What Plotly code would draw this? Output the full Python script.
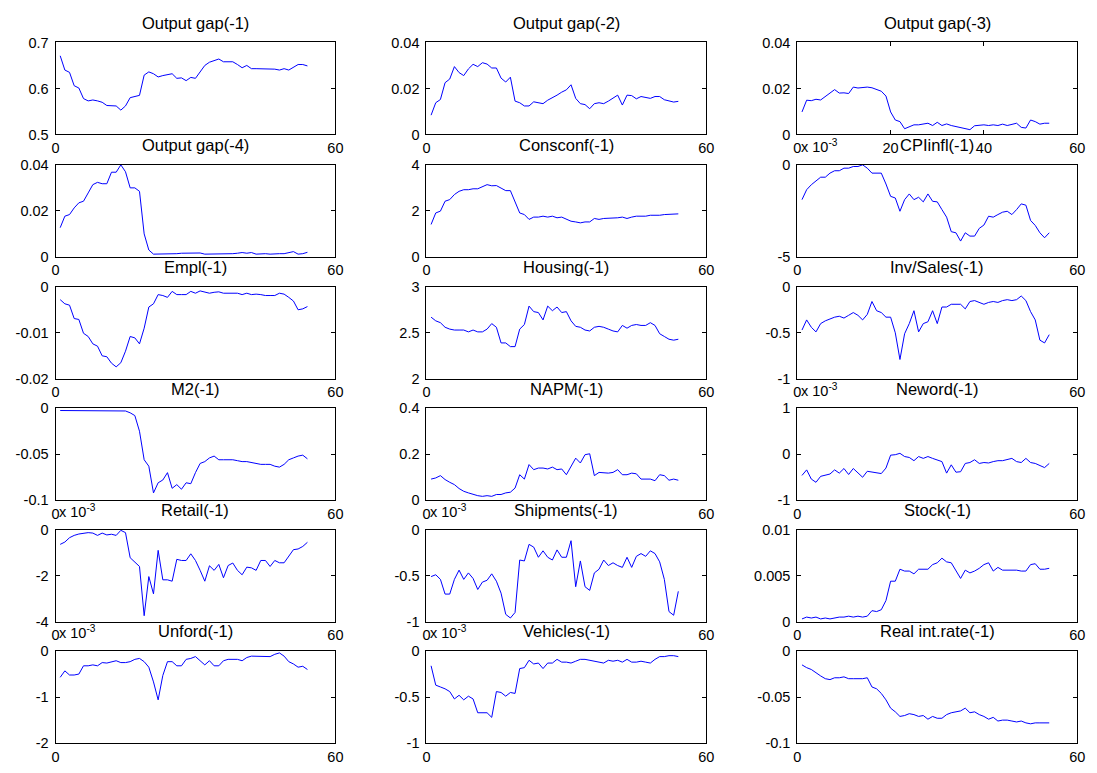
import plotly.graph_objects as go

titles = ["Output gap(-1)", "Output gap(-2)", "Output gap(-3)",
          "Output gap(-4)", "Consconf(-1)", "CPIinfl(-1)",
          "Empl(-1)", "Housing(-1)", "Inv/Sales(-1)",
          "M2(-1)", "NAPM(-1)", "Neword(-1)",
          "Retail(-1)", "Shipments(-1)", "Stock(-1)",
          "Unford(-1)", "Vehicles(-1)", "Real int.rate(-1)"]

output_gap_1 = [0.671, 0.640, 0.635, 0.606, 0.601, 0.578, 0.573, 0.575, 0.573, 0.570,
                0.563, 0.563, 0.562, 0.553, 0.562, 0.580, 0.583, 0.585, 0.629, 0.636,
                0.632, 0.625, 0.628, 0.630, 0.632, 0.622, 0.623, 0.617, 0.624, 0.622,
                0.637, 0.650, 0.657, 0.661, 0.664, 0.658, 0.658, 0.658, 0.652, 0.645,
                0.650, 0.643, 0.643, 0.643, 0.643, 0.643, 0.642, 0.640, 0.643, 0.640,
                0.646, 0.652, 0.652, 0.649]
output_gap_2 = [0.0084, 0.0138, 0.0152, 0.0225, 0.0241, 0.0295, 0.0269, 0.0256, 0.0285, 0.0305,
                0.0295, 0.0312, 0.0306, 0.0289, 0.0289, 0.0245, 0.0228, 0.0249, 0.0145, 0.0138,
                0.0124, 0.0124, 0.0142, 0.0138, 0.0134, 0.0149, 0.0159, 0.0171, 0.0184, 0.0194,
                0.0216, 0.0157, 0.0134, 0.0130, 0.0112, 0.0134, 0.0138, 0.0134, 0.0145, 0.0159,
                0.0171, 0.0128, 0.0171, 0.0169, 0.0155, 0.0165, 0.0161, 0.0157, 0.0165, 0.0165,
                0.0151, 0.0145, 0.0141, 0.0144]
output_gap_3 = [0.0098, 0.0149, 0.0147, 0.0153, 0.0150, 0.0164, 0.0181, 0.0195, 0.0180, 0.0181,
                0.0178, 0.0206, 0.0202, 0.0205, 0.0206, 0.0203, 0.0195, 0.0188, 0.0167, 0.0098,
                0.0063, 0.0056, 0.0025, 0.0035, 0.0042, 0.0042, 0.0045, 0.0049, 0.0039, 0.0053,
                0.0039, 0.0046, 0.0039, 0.0035, 0.0031, 0.0025, 0.0021, 0.0038, 0.0039, 0.0042,
                0.0039, 0.0042, 0.0039, 0.0045, 0.0039, 0.0045, 0.0049, 0.0031, 0.0028, 0.0063,
                0.0056, 0.0045, 0.0049, 0.0049]
output_gap_4 = [0.0127, 0.0177, 0.0184, 0.0213, 0.0235, 0.0242, 0.0278, 0.0314, 0.0324, 0.0318,
                0.0318, 0.0368, 0.0368, 0.0400, 0.0370, 0.0300, 0.0300, 0.0285, 0.0100, 0.0030,
                0.0012, 0.0012, 0.0012, 0.0012, 0.0014, 0.0014, 0.0016, 0.0016, 0.0019, 0.0017,
                0.0017, 0.0012, 0.0012, 0.0014, 0.0014, 0.0014, 0.0014, 0.0014, 0.0016, 0.0019,
                0.0016, 0.0019, 0.0012, 0.0014, 0.0014, 0.0012, 0.0014, 0.0014, 0.0014, 0.0019,
                0.0023, 0.0012, 0.0014, 0.0020]
consconf = [1.41, 1.91, 1.99, 2.42, 2.49, 2.71, 2.85, 2.92, 2.92, 2.96,
            2.96, 3.06, 3.14, 3.09, 3.10, 2.99, 2.88, 2.88, 2.42, 1.91,
            1.84, 1.63, 1.73, 1.73, 1.77, 1.73, 1.77, 1.70, 1.73, 1.63,
            1.55, 1.52, 1.48, 1.52, 1.52, 1.67, 1.63, 1.67, 1.67, 1.70,
            1.70, 1.73, 1.67, 1.73, 1.77, 1.77, 1.77, 1.81, 1.80, 1.81,
            1.84, 1.84, 1.84, 1.87]
cpiinfl = [-1.89, -1.35, -1.08, -0.90, -0.67, -0.67, -0.45, -0.32, -0.32, -0.18,
           -0.18, -0.09, -0.09, 0.0, -0.18, -0.45, -0.45, -0.45, -1.04, -1.71,
           -1.80, -2.52, -1.89, -1.58, -1.89, -1.76, -2.01, -1.58, -1.98, -2.01,
           -2.43, -2.84, -3.63, -3.69, -4.14, -3.69, -3.87, -3.87, -3.45, -3.27,
           -2.79, -2.84, -2.70, -2.57, -2.52, -2.70, -2.43, -2.12, -2.19, -3.02,
           -3.29, -3.69, -3.96, -3.69]
empl = [-0.0028, -0.0037, -0.0040, -0.0069, -0.0071, -0.0101, -0.0108, -0.0124, -0.0129, -0.0150,
        -0.0152, -0.0166, -0.0174, -0.0165, -0.0140, -0.0108, -0.0111, -0.0124, -0.0090, -0.0044,
        -0.0037, -0.0017, -0.0019, -0.0023, -0.0010, -0.0017, -0.0017, -0.0017, -0.0010, -0.0014,
        -0.0009, -0.0012, -0.0014, -0.0012, -0.0011, -0.0014, -0.0014, -0.0014, -0.0014, -0.0017,
        -0.0014, -0.0017, -0.0016, -0.0017, -0.0019, -0.0019, -0.0019, -0.0014, -0.0016, -0.0023,
        -0.0031, -0.0050, -0.0048, -0.0043]
housing = [2.67, 2.63, 2.61, 2.56, 2.54, 2.53, 2.53, 2.53, 2.51, 2.53,
           2.51, 2.51, 2.54, 2.60, 2.56, 2.39, 2.39, 2.35, 2.35, 2.54,
           2.59, 2.79, 2.73, 2.72, 2.64, 2.79, 2.74, 2.78, 2.72, 2.73,
           2.63, 2.57, 2.56, 2.53, 2.52, 2.56, 2.57, 2.56, 2.54, 2.52,
           2.51, 2.58, 2.55, 2.58, 2.59, 2.58, 2.58, 2.61, 2.58, 2.49,
           2.46, 2.43, 2.42, 2.43]
inv_sales = [-0.47, -0.36, -0.44, -0.49, -0.40, -0.37, -0.35, -0.33, -0.32, -0.34,
             -0.31, -0.28, -0.31, -0.36, -0.30, -0.16, -0.26, -0.28, -0.33, -0.33,
             -0.50, -0.79, -0.51, -0.40, -0.26, -0.49, -0.40, -0.38, -0.26, -0.40,
             -0.22, -0.22, -0.19, -0.19, -0.19, -0.24, -0.16, -0.15, -0.17, -0.19,
             -0.17, -0.16, -0.17, -0.15, -0.14, -0.15, -0.14, -0.10, -0.15, -0.27,
             -0.36, -0.58, -0.61, -0.52]
m2 = [-0.0025, -0.0025, -0.0025, -0.0025, -0.0025, -0.0025, -0.0025, -0.0025, -0.0025, -0.0025,
      -0.0025, -0.0025, -0.0025, -0.0025, -0.003, -0.005, -0.008, -0.025, -0.056, -0.063,
      -0.092, -0.081, -0.078, -0.070, -0.087, -0.083, -0.088, -0.081, -0.082, -0.070,
      -0.060, -0.058, -0.054, -0.052, -0.056, -0.056, -0.056, -0.056, -0.057, -0.058,
      -0.058, -0.059, -0.060, -0.061, -0.061, -0.061, -0.063, -0.064, -0.061, -0.056,
      -0.054, -0.052, -0.051, -0.055]
napm = [0.092, 0.097, 0.107, 0.090, 0.078, 0.068, 0.051, 0.039, 0.032, 0.025,
        0.020, 0.017, 0.020, 0.017, 0.025, 0.025, 0.032, 0.035, 0.053, 0.111,
        0.092, 0.155, 0.133, 0.140, 0.140, 0.136, 0.144, 0.133, 0.136, 0.111,
        0.150, 0.183, 0.162, 0.198, 0.202, 0.107, 0.121, 0.118, 0.118, 0.121,
        0.133, 0.111, 0.111, 0.118, 0.115, 0.092, 0.092, 0.092, 0.085, 0.111,
        0.107, 0.087, 0.092, 0.087]
neword = [-0.46, -0.34, -0.54, -0.61, -0.48, -0.46, -0.43, -0.34, -0.41, -0.31,
          -0.44, -0.31, -0.41, -0.50, -0.37, -0.39, -0.41, -0.42, -0.30, -0.02,
          -0.01, 0.02, -0.05, -0.07, -0.14, -0.05, -0.09, -0.05, -0.09, -0.12,
          -0.16, -0.41, -0.23, -0.39, -0.38, -0.20, -0.18, -0.12, -0.20, -0.18,
          -0.19, -0.16, -0.14, -0.14, -0.12, -0.09, -0.16, -0.18, -0.09, -0.18,
          -0.20, -0.25, -0.29, -0.20]
retail = [-0.64, -0.54, -0.35, -0.25, -0.19, -0.17, -0.13, -0.15, -0.25, -0.15,
          -0.23, -0.20, -0.25, -0.03, -0.13, -1.22, -1.40, -1.60, -3.74, -2.04,
          -2.79, -0.90, -2.18, -2.18, -2.24, -1.29, -1.34, -1.34, -1.05, -1.34,
          -1.77, -2.24, -1.57, -1.77, -1.51, -2.09, -1.56, -1.45, -1.77, -1.96,
          -1.63, -1.66, -1.77, -1.34, -1.34, -1.60, -1.34, -1.44, -1.44, -1.16,
          -0.87, -0.84, -0.73, -0.55]
shipments = [-0.51, -0.49, -0.54, -0.70, -0.70, -0.54, -0.44, -0.54, -0.47, -0.53,
             -0.65, -0.57, -0.55, -0.48, -0.56, -0.69, -0.92, -0.96, -0.90, -0.33,
             -0.34, -0.16, -0.19, -0.30, -0.23, -0.30, -0.33, -0.22, -0.30, -0.30,
             -0.12, -0.62, -0.34, -0.62, -0.66, -0.47, -0.43, -0.33, -0.39, -0.36,
             -0.39, -0.41, -0.30, -0.41, -0.29, -0.26, -0.29, -0.23, -0.26, -0.35,
             -0.54, -0.89, -0.93, -0.67]
stock = [0.0003, 0.0005, 0.0004, 0.0005, 0.0003, 0.0004, 0.0003, 0.0004, 0.0005, 0.0005,
         0.0006, 0.0005, 0.0006, 0.0005, 0.0006, 0.0012, 0.0011, 0.0013, 0.0023, 0.0044,
         0.0044, 0.0057, 0.0055, 0.0055, 0.0052, 0.0057, 0.0057, 0.0057, 0.0062, 0.0064,
         0.0069, 0.0065, 0.0064, 0.0056, 0.0047, 0.0056, 0.0053, 0.0055, 0.0058, 0.0062,
         0.0064, 0.0055, 0.0059, 0.0056, 0.0056, 0.0056, 0.0056, 0.0055, 0.0055, 0.0062,
         0.0063, 0.0057, 0.0057, 0.0058]
unford = [-0.57, -0.43, -0.52, -0.52, -0.50, -0.32, -0.32, -0.30, -0.32, -0.25,
          -0.26, -0.23, -0.21, -0.25, -0.25, -0.23, -0.18, -0.16, -0.23, -0.35,
          -0.67, -1.06, -0.53, -0.23, -0.23, -0.32, -0.32, -0.18, -0.16, -0.12,
          -0.21, -0.30, -0.21, -0.32, -0.32, -0.21, -0.18, -0.18, -0.18, -0.21,
          -0.14, -0.11, -0.11, -0.12, -0.11, -0.12, -0.07, -0.04, -0.11, -0.23,
          -0.28, -0.35, -0.33, -0.40]
vehicles = [-0.16, -0.37, -0.39, -0.41, -0.44, -0.52, -0.48, -0.53, -0.49, -0.52,
            -0.67, -0.67, -0.67, -0.72, -0.44, -0.45, -0.49, -0.45, -0.46, -0.19,
            -0.18, -0.10, -0.14, -0.13, -0.19, -0.13, -0.13, -0.09, -0.12, -0.12,
            -0.13, -0.11, -0.09, -0.09, -0.10, -0.11, -0.12, -0.13, -0.10, -0.11,
            -0.10, -0.12, -0.09, -0.12, -0.12, -0.11, -0.12, -0.13, -0.09, -0.06,
            -0.06, -0.05, -0.05, -0.06]
real_int_rate = [-0.015, -0.018, -0.020, -0.024, -0.027, -0.030, -0.031, -0.029, -0.029, -0.028,
                 -0.030, -0.030, -0.030, -0.030, -0.029, -0.039, -0.041, -0.046, -0.053, -0.062,
                 -0.066, -0.071, -0.070, -0.068, -0.069, -0.071, -0.070, -0.074, -0.071, -0.073,
                 -0.073, -0.069, -0.067, -0.066, -0.065, -0.062, -0.067, -0.066, -0.069, -0.071,
                 -0.074, -0.072, -0.076, -0.075, -0.075, -0.076, -0.077, -0.076, -0.078, -0.079,
                 -0.078, -0.078, -0.078, -0.078]

series = [output_gap_1, output_gap_2, output_gap_3, output_gap_4, consconf, cpiinfl,
          empl, housing, inv_sales, m2, napm, neword,
          retail, shipments, stock, unford, vehicles, real_int_rate]

y_ranges = [[0.5, 0.7], [0, 0.04], [0, 0.04], [0, 0.04], [0, 4], [-5, 0],
            [-0.02, 0], [2, 3], [-1, 0], [-0.1, 0], [0, 0.4], [-1, 1],
            [-4, 0], [-1, 0], [0, 0.01], [-2, 0], [-1, 0], [-0.1, 0]]
y_tickvals = [[0.5, 0.6, 0.7], [0, 0.02, 0.04], [0, 0.02, 0.04], [0, 0.02, 0.04], [0, 2, 4], [-5, 0],
              [-0.02, -0.01, 0], [2, 2.5, 3], [-1, -0.5, 0], [-0.1, -0.05, 0], [0, 0.2, 0.4], [-1, 0, 1],
              [-4, -2, 0], [-1, -0.5, 0], [0, 0.005, 0.01], [-2, -1, 0], [-1, -0.5, 0], [-0.1, -0.05, 0]]
y_ticktext = [["0.5", "0.6", "0.7"], ["0", "0.02", "0.04"], ["0", "0.02", "0.04"], ["0", "0.02", "0.04"],
              ["0", "2", "4"], ["-5", "0"],
              ["-0.02", "-0.01", "0"], ["2", "2.5", "3"], ["-1", "-0.5", "0"],
              ["-0.1", "-0.05", "0"], ["0", "0.2", "0.4"], ["-1", "0", "1"],
              ["-4", "-2", "0"], ["-1", "-0.5", "0"], ["0", "0.005", "0.01"],
              ["-2", "-1", "0"], ["-1", "-0.5", "0"], ["-0.1", "-0.05", "0"]]
x_tickvals = [[0, 60], [0, 60], [0, 20, 40, 60]] + [[0, 60]] * 15
exponent_panels = ["CPIinfl(-1)", "Neword(-1)", "Retail(-1)", "Shipments(-1)", "Unford(-1)", "Vehicles(-1)"]

W, H = 1097, 773
# page body has an 8px default margin, positions below are relative to the figure
col_left = [44, 419, 794]
ax_w = 283
row_top = [27, 152, 276.5, 400.5, 524.5, 648.5]
ax_h = 94

FONT = "Liberation Sans, Arial, sans-serif"
TICK_SIZE = 14.5
TITLE_SIZE = 16.5
fig = go.Figure()
annotations = []
layout = dict(width=W, height=H, margin=dict(l=0, r=0, t=0, b=0),
              paper_bgcolor="white", plot_bgcolor="white", showlegend=False,
              font=dict(family=FONT, size=TICK_SIZE, color="black"))

for k, vals in enumerate(series):
    r, c = divmod(k, 3)
    sfx = "" if k == 0 else str(k + 1)
    xs = list(range(1, len(vals) + 1))
    fig.add_trace(go.Scatter(x=xs, y=vals, mode="lines",
                             line=dict(color="#0000ff", width=1),
                             xaxis="x" + sfx, yaxis="y" + sfx, hoverinfo="skip"))
    x0 = col_left[c] / W
    x1 = (col_left[c] + ax_w) / W
    y1 = 1 - row_top[r] / H
    y0 = 1 - (row_top[r] + ax_h) / H
    common = dict(showline=True, linecolor="black", linewidth=1, mirror="ticks",
                  ticks="inside", ticklen=4, tickwidth=1, tickcolor="black",
                  showgrid=False, zeroline=False, tickmode="array",
                  tickfont=dict(family=FONT, size=TICK_SIZE, color="black"))
    layout["xaxis" + sfx] = dict(domain=[x0, x1], range=[0, 60], anchor="y" + sfx,
                                 tickvals=x_tickvals[k],
                                 ticktext=[str(v) for v in x_tickvals[k]], **common)
    layout["yaxis" + sfx] = dict(domain=[y0, y1], range=y_ranges[k], anchor="x" + sfx,
                                 tickvals=y_tickvals[k], ticktext=y_ticktext[k],
                                 ticklabelstandoff=3, **common)
    annotations.append(dict(text=titles[k], xref="paper", yref="paper",
                            x=(col_left[c] + ax_w / 2) / W, y=1 - (row_top[r] - 20) / H,
                            xanchor="center", yanchor="middle", showarrow=False,
                            font=dict(family=FONT, size=TITLE_SIZE, color="black")))
    if titles[k] in exponent_panels:
        annotations.append(dict(text="x 10<sup>-3</sup>", xref="paper", yref="paper",
                                x=(col_left[c] + 2) / W, y=1 - (row_top[r] - 19) / H,
                                xanchor="left", yanchor="middle", showarrow=False,
                                font=dict(family=FONT, size=TICK_SIZE, color="black")))

layout["annotations"] = annotations
fig.update_layout(**layout)
fig.write_html("out.html")
